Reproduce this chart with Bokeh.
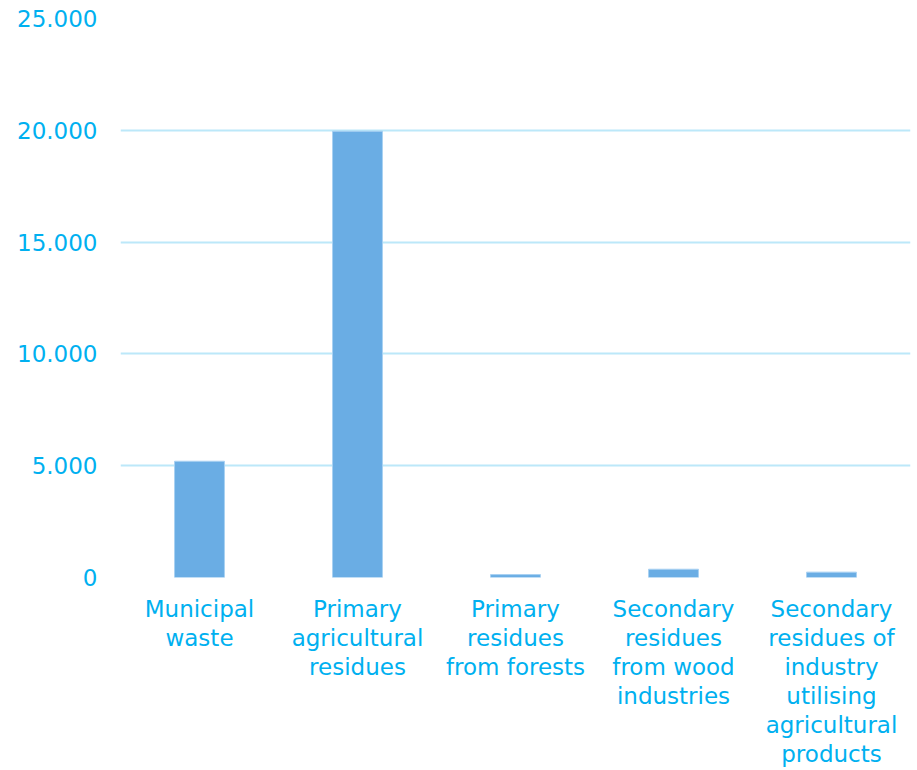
from bokeh.plotting import figure
from bokeh.models import FixedTicker, ColumnDataSource
from bokeh.embed import file_html
from bokeh.resources import INLINE

categories = [
    "Municipal\nwaste",
    "Primary\nagricultural\nresidues",
    "Primary\nresidues\nfrom forests",
    "Secondary\nresidues\nfrom wood\nindustries",
    "Secondary\nresidues of\nindustry\nutilising\nagricultural\nproducts",
]
values = [5200, 19960, 130, 370, 240]
y_ticks = [0, 5000, 10000, 15000, 20000, 25000]
y_tick_labels = ["0", "5.000", "10.000", "15.000", "20.000", "25.000"]

TEXT = "#00B0F0"
FONT = "DejaVu Sans"

src = ColumnDataSource(dict(cat=categories, val=values))

p = figure(x_range=categories, y_range=(0, 25000), width=911, height=770,
           output_backend="svg", toolbar_location=None,
           min_border_left=120, min_border_right=1, min_border_top=18,
           min_border_bottom=170)
p.outline_line_color = None

p.vbar(x="cat", top="val", width=0.316, source=src,
       fill_color="#6AADE4", line_color="#A9D1F2", line_width=1)

p.yaxis.ticker = FixedTicker(ticks=y_ticks)
p.yaxis.major_label_overrides = {t: l for t, l in zip(y_ticks, y_tick_labels)}
for ax in (p.xaxis, p.yaxis):
    ax.axis_line_color = None
    ax.major_tick_line_color = None
    ax.minor_tick_line_color = None
    ax.major_label_text_color = TEXT
    ax.major_label_text_font = FONT
    ax.major_label_text_font_size = "23px"
p.yaxis.major_label_standoff = 17
p.xaxis.major_label_standoff = 12
p.xaxis.major_label_text_line_height = 1.12
p.xaxis.major_label_text_align = "center"

p.xgrid.grid_line_color = None
p.ygrid.grid_line_color = "#BCE8F9"
p.ygrid.grid_line_width = 2
p.ygrid.ticker = FixedTicker(ticks=y_ticks)

open("out.html", "w").write(file_html(p, INLINE))
